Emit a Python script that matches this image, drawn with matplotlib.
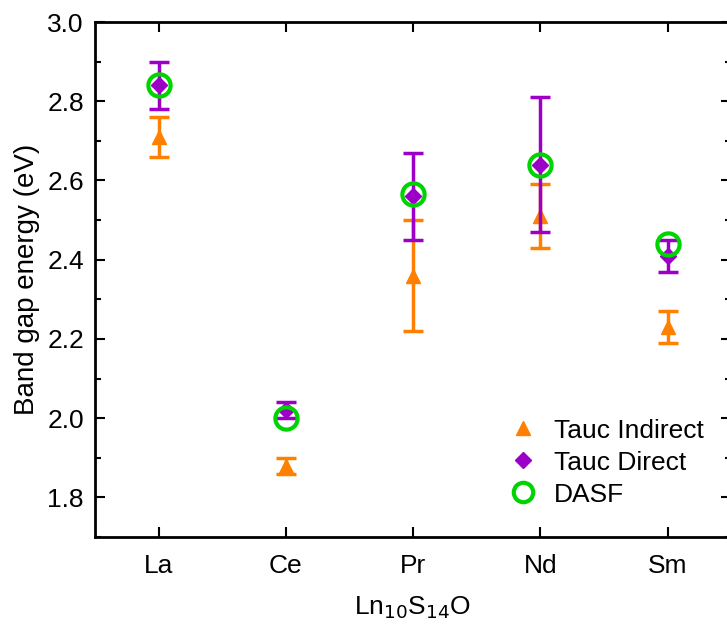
import numpy as np
import matplotlib.pyplot as plt
from matplotlib.ticker import MultipleLocator
from matplotlib.lines import Line2D

plt.rcParams['font.family'] = ['Liberation Sans', 'DejaVu Sans']

elements = ['La', 'Ce', 'Pr', 'Nd', 'Sm']
indirect = [2.71, 1.88, 2.36, 2.51, 2.23]
indirect_err = [0.05, 0.02, 0.14, 0.08, 0.04]
direct = [2.84, 2.02, 2.56, 2.64, 2.41]
direct_err = [0.06, 0.02, 0.11, 0.17, 0.04]
dasf = [2.84, 2.00, 2.565, 2.64, 2.44]

c_ind = '#ff8000'
c_dir = '#9c00c8'
c_dasf = '#00d400'

x = np.arange(1, len(elements) + 1)

fig = plt.figure(figsize=(7.27, 6.25), dpi=100)
ax = fig.add_axes([0.1307, 0.1408, 0.875, 0.824])

ax.errorbar(x, indirect, yerr=indirect_err, fmt='^', color=c_ind, ms=10,
            elinewidth=2.5, capsize=7, capthick=2.5, zorder=2)
ax.errorbar(x, direct, yerr=direct_err, fmt='D', color=c_dir, ms=8,
            elinewidth=2.5, capsize=7, capthick=2.5, zorder=3)
ax.plot(x, dasf, 'o', ms=16, mfc='none', mec=c_dasf, mew=3, ls='none', zorder=4)

ax.set_xlim(0.5, 5.5)
ax.set_ylim(1.7, 3.0)
ax.set_xticks(x)
ax.set_xticklabels(elements)
ax.set_yticks(np.arange(1.8, 3.01, 0.2))
ax.yaxis.set_minor_locator(MultipleLocator(0.1))
ax.tick_params(which='both', direction='in', top=True, right=True, labelsize=19, width=1.5)
ax.tick_params(which='major', length=7, pad=8)
ax.tick_params(axis='x', which='major', pad=12)
ax.tick_params(which='minor', length=4)
for s in ax.spines.values():
    s.set_linewidth(2)

ax.set_xlabel('Ln$_{10}$S$_{14}$O', fontsize=19, labelpad=12)
ax.set_ylabel('Band gap energy (eV)', fontsize=20, labelpad=5)

handles = [
    Line2D([], [], marker='^', color=c_ind, ms=10, ls='none'),
    Line2D([], [], marker='D', color=c_dir, ms=8, ls='none'),
    Line2D([], [], marker='o', mfc='none', mec=c_dasf, mew=3, ms=14, ls='none'),
]
ax.legend(handles, ['Tauc Indirect', 'Tauc Direct', 'DASF'], loc='lower left',
          bbox_to_anchor=(0.605, 0.013), frameon=False, fontsize=19,
          handletextpad=0.4, labelspacing=0.3, handlelength=1.5)

fig.savefig('out.png', dpi=100)
